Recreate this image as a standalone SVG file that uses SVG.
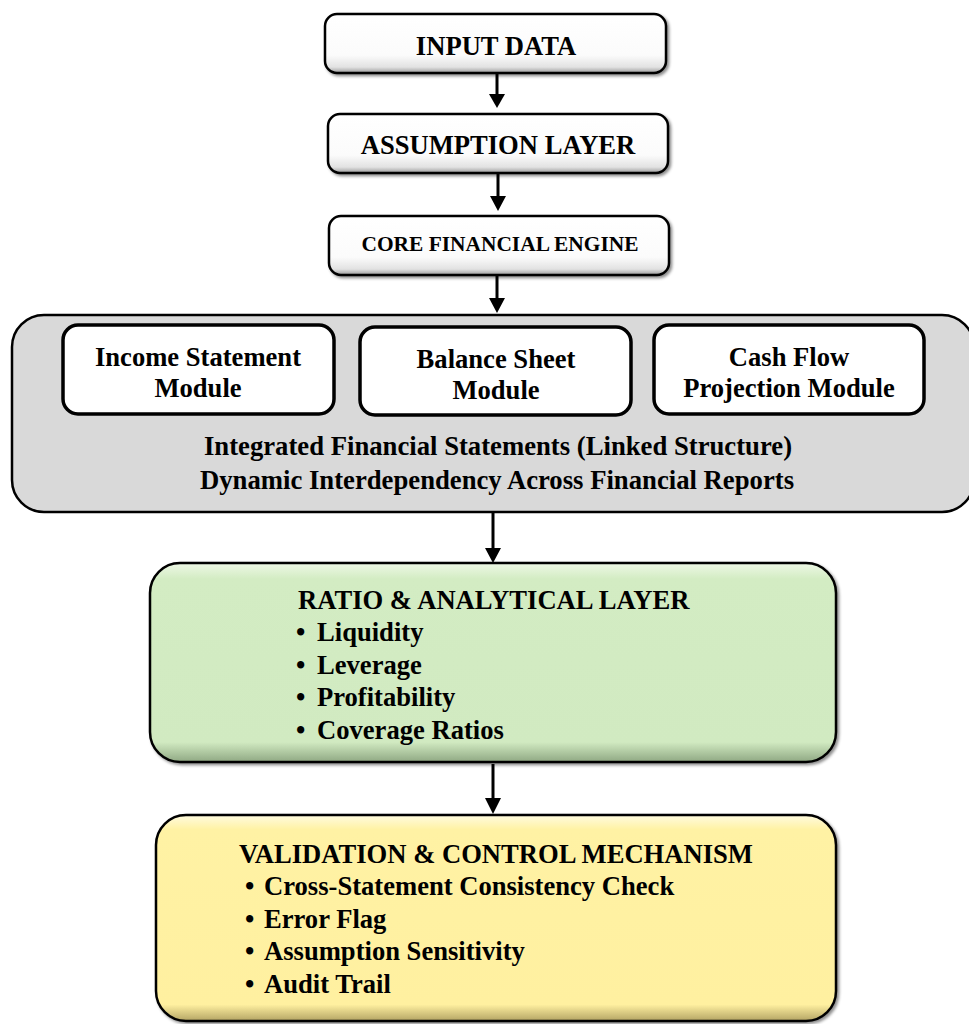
<svg xmlns="http://www.w3.org/2000/svg" width="969" height="1024" viewBox="0 0 969 1024">
<defs>
<style>
text{font-family:"Liberation Serif","Times New Roman",serif;font-weight:bold;fill:#000}
.t26{font-size:26.6px}
.t21{font-size:21.4px}
.t25{font-size:26.7px}
.mid{text-anchor:middle}
.box{stroke:#000;stroke-width:2.5}
.mod{fill:#fff;stroke:#000;stroke-width:3.5}
.conn{stroke:#000;stroke-width:3;fill:none}
</style>
<linearGradient id="gW" x1="0" y1="0" x2="0" y2="1">
<stop offset="0" stop-color="#ffffff"/>
<stop offset="0.7" stop-color="#fbfbfb"/>
<stop offset="0.9" stop-color="#e2e2e2"/>
<stop offset="1" stop-color="#9a9a9a"/>
</linearGradient>
<linearGradient id="gG" x1="0" y1="0" x2="0" y2="1">
<stop offset="0" stop-color="#eef8e6"/>
<stop offset="0.08" stop-color="#d3ecc3"/>
<stop offset="0.9" stop-color="#d1eac1"/>
<stop offset="1" stop-color="#8fa883"/>
</linearGradient>
<linearGradient id="gY" x1="0" y1="0" x2="0" y2="1">
<stop offset="0" stop-color="#fffbe0"/>
<stop offset="0.07" stop-color="#fff2a4"/>
<stop offset="0.92" stop-color="#fff0a0"/>
<stop offset="1" stop-color="#b3a464"/>
</linearGradient>
<filter id="sh" x="-5%" y="-10%" width="112%" height="130%">
<feDropShadow dx="2" dy="2" stdDeviation="1.5" flood-color="#000" flood-opacity="0.45"/>
</filter>
</defs>
<rect width="969" height="1024" fill="#fff"/>

<g id="connectors">
<line class="conn" x1="497" y1="74" x2="497" y2="98"/>
<path d="M489,94 L505,94 L497,108 z" fill="#000"/>
<line class="conn" x1="498" y1="174" x2="498" y2="200"/>
<path d="M490,196 L506,196 L498,211 z" fill="#000"/>
<line class="conn" x1="497" y1="276" x2="497" y2="302"/>
<path d="M489,298 L505,298 L497,313 z" fill="#000"/>
<line class="conn" x1="493" y1="513" x2="493" y2="550"/>
<path d="M485,548 L501,548 L493,563 z" fill="#000"/>
<line class="conn" x1="493" y1="764" x2="493" y2="800"/>
<path d="M485,798 L501,798 L493,814 z" fill="#000"/>
</g>

<g id="input-data">
<rect class="box" x="325" y="14" width="341" height="59" rx="12" fill="url(#gW)" filter="url(#sh)"/>
<text class="t26 mid" x="496" y="55">INPUT DATA</text>
</g>

<g id="assumption-layer">
<rect class="box" x="328" y="114" width="340" height="59" rx="12" fill="url(#gW)" filter="url(#sh)"/>
<text class="t26 mid" x="498" y="154">ASSUMPTION LAYER</text>
</g>

<g id="core-financial-engine">
<rect class="box" x="329" y="216" width="340" height="59" rx="12" fill="url(#gW)" filter="url(#sh)"/>
<text class="t21 mid" x="500" y="251">CORE FINANCIAL ENGINE</text>
</g>

<g id="integrated-statements">
<rect x="12" y="315" width="962" height="197" rx="32" fill="#d9d9d9" stroke="#000" stroke-width="2.5"/>
<text class="t25 mid" x="498" y="455">Integrated Financial Statements (Linked Structure)</text>
<text class="t25 mid" x="497" y="489">Dynamic Interdependency Across Financial Reports</text>
</g>

<g id="income-statement-module">
<rect class="mod" x="63" y="325" width="271" height="89" rx="15"/>
<text class="t26 mid" x="198" y="366">Income Statement</text>
<text class="t26 mid" x="198" y="397">Module</text>
</g>

<g id="balance-sheet-module">
<rect class="mod" x="360" y="327" width="271" height="88" rx="15"/>
<text class="t26 mid" x="496" y="368">Balance Sheet</text>
<text class="t26 mid" x="496" y="399">Module</text>
</g>

<g id="cash-flow-module">
<rect class="mod" x="654" y="325" width="270" height="89" rx="15"/>
<text class="t26 mid" x="789" y="366">Cash Flow</text>
<text class="t26 mid" x="789" y="397">Projection Module</text>
</g>

<g id="ratio-analytical-layer">
<rect class="box" x="150" y="563" width="686" height="199" rx="30" fill="url(#gG)" filter="url(#sh)"/>
<text class="t26" x="298" y="609">RATIO &amp; ANALYTICAL LAYER</text>
<text class="t26" x="296" y="641">•</text><text class="t26" x="317" y="641">Liquidity</text>
<text class="t26" x="296" y="674">•</text><text class="t26" x="317" y="674">Leverage</text>
<text class="t26" x="296" y="706">•</text><text class="t26" x="317" y="706">Profitability</text>
<text class="t26" x="296" y="739">•</text><text class="t26" x="317" y="739">Coverage Ratios</text>
</g>

<g id="validation-control">
<rect class="box" x="156" y="815" width="680" height="206" rx="30" fill="url(#gY)" filter="url(#sh)"/>
<text class="t26" x="239" y="863">VALIDATION &amp; CONTROL MECHANISM</text>
<text class="t26" x="245" y="895">•</text><text class="t26" x="264" y="895">Cross-Statement Consistency Check</text>
<text class="t26" x="245" y="928">•</text><text class="t26" x="264" y="928">Error Flag</text>
<text class="t26" x="245" y="960">•</text><text class="t26" x="264" y="960">Assumption Sensitivity</text>
<text class="t26" x="245" y="993">•</text><text class="t26" x="264" y="993">Audit Trail</text>
</g>
</svg>
